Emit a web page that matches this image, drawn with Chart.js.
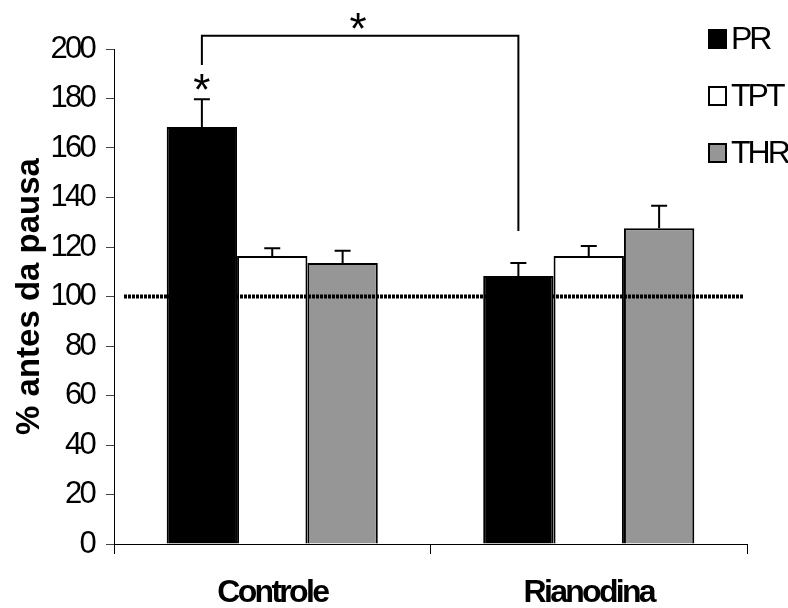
<!DOCTYPE html>
<html>
<head>
<meta charset="utf-8">
<script src="https://cdn.jsdelivr.net/npm/chart.js@4"></script>
<style>
  html, body { margin: 0; padding: 0; background: #fff; }
</style>
</head>
<body>
<canvas id="grafico" width="788" height="608"></canvas>
<script>
// dados
const categorias = ["Controle", "Rianodina"];
const nomesSeries = ["PR", "TPT", "THR"];
const mediaPR = [168.5, 108.3];
const mediaTPT = [116.4, 116.4];
const mediaTHR = [113.5, 127.6];
const erroPR = [11.2, 5.2];
const erroTPT = [3.1, 4.0];
const erroTHR = [5.0, 9.1];
const linhaBase = 100; // linha pontilhada
const yMin = 0, yMax = 200, yPasso = 20;

// colchete de significancia (valores no eixo y)
const colcheteTopo = 205.4;
const colcheteFimEsq = 193.5;
const colcheteFimDir = 126.5;
const asteriscoBarra = 186.5;
const asteriscoColchete = 211.3;

const FONTE = "'Liberation Sans', Arial, sans-serif";
const cores = ["#000000", "#ffffff", "#969696"];
const erros = [erroPR, erroTPT, erroTHR];

// espacamento negativo para imitar o texto comprimido do original
const plugEspaco = {
  id: "espaco",
  beforeUpdate(chart) { chart.ctx.letterSpacing = "-2.7px"; },
  beforeDraw(chart) { chart.ctx.letterSpacing = "-2.7px"; },
};

function asterisco(ctx, x, cy, tam) {
  ctx.font = tam + "px " + FONTE;
  ctx.textAlign = "center";
  ctx.textBaseline = "alphabetic";
  const m = ctx.measureText("*");
  ctx.fillText("*", x, cy + (m.actualBoundingBoxAscent - m.actualBoundingBoxDescent) / 2);
}

const plugExtras = {
  id: "extras",
  afterDatasetsDraw(chart) {
    const ctx = chart.ctx;
    const y = chart.scales.y;
    const area = chart.chartArea;
    ctx.save();
    ctx.strokeStyle = "#000";
    ctx.fillStyle = "#000";

    // barras de erro (so para cima)
    ctx.lineWidth = 2;
    chart.data.datasets.forEach((ds, i) => {
      const meta = chart.getDatasetMeta(i);
      meta.data.forEach((bar, j) => {
        const topo = y.getPixelForValue(ds.data[j] + erros[i][j]);
        ctx.beginPath();
        ctx.moveTo(bar.x, bar.y);
        ctx.lineTo(bar.x, topo);
        ctx.moveTo(bar.x - 8, topo);
        ctx.lineTo(bar.x + 8, topo);
        ctx.stroke();
      });
    });

    // linha pontilhada em 100%
    const yb = y.getPixelForValue(linhaBase);
    ctx.lineWidth = 4;
    ctx.setLineDash([3, 1]);
    ctx.beginPath();
    ctx.moveTo(area.left + 10, yb);
    ctx.lineTo(area.right - 3, yb);
    ctx.stroke();
    ctx.setLineDash([]);

    // colchete entre PR controle e PR rianodina
    const pr = chart.getDatasetMeta(0).data;
    const x1 = pr[0].x, x2 = pr[1].x;
    const yt = y.getPixelForValue(colcheteTopo);
    ctx.lineWidth = 2;
    ctx.beginPath();
    ctx.moveTo(x1, y.getPixelForValue(colcheteFimEsq));
    ctx.lineTo(x1, yt);
    ctx.lineTo(x2, yt);
    ctx.lineTo(x2, y.getPixelForValue(colcheteFimDir));
    ctx.stroke();

    ctx.letterSpacing = "0px";
    asterisco(ctx, x1, y.getPixelForValue(asteriscoBarra), 44);
    asterisco(ctx, (x1 + x2) / 2 - 2, y.getPixelForValue(asteriscoColchete), 44);
    ctx.restore();
  },
  afterDraw(chart) {
    const ctx = chart.ctx;
    const area = chart.chartArea;
    ctx.save();

    // legenda
    ctx.letterSpacing = "-3px";
    ctx.font = "32px " + FONTE;
    ctx.textAlign = "left";
    ctx.textBaseline = "middle";
    nomesSeries.forEach((nome, i) => {
      const cy = 39 + i * 57;
      ctx.fillStyle = cores[i];
      ctx.fillRect(709, cy - 9, 17, 18);
      ctx.strokeStyle = "#000";
      ctx.lineWidth = 2;
      ctx.strokeRect(709, cy - 9, 17, 18);
      ctx.fillStyle = "#000";
      ctx.fillText(nome, 731, cy + 1);
    });

    // titulo do eixo y
    ctx.letterSpacing = "0px";
    ctx.font = "bold 33px " + FONTE;
    ctx.textAlign = "center";
    ctx.textBaseline = "middle";
    ctx.translate(30, (area.top + area.bottom) / 2);
    ctx.rotate(-Math.PI / 2);
    ctx.fillText("% antes da pausa", 0, 0);
    ctx.restore();
  },
};

const grafico = new Chart(document.getElementById("grafico"), {
  type: "bar",
  data: {
    labels: categorias,
    datasets: [
      { label: nomesSeries[0], data: mediaPR, backgroundColor: cores[0] },
      { label: nomesSeries[1], data: mediaTPT, backgroundColor: cores[1] },
      { label: nomesSeries[2], data: mediaTHR, backgroundColor: cores[2] },
    ].map((d) => Object.assign(d, {
      borderColor: "#000",
      borderWidth: 2,
      categoryPercentage: 0.667,
      barPercentage: 1.0,
    })),
  },
  options: {
    responsive: false,
    animation: false,
    devicePixelRatio: 1,
    layout: { padding: { top: 49, right: 41, left: 0, bottom: 0 } },
    plugins: { legend: { display: false }, tooltip: { enabled: false } },
    scales: {
      x: {
        ticks: { color: "#000", font: { family: FONTE, size: 32, weight: "bold" }, padding: 20 },
        grid: { offset: true, drawOnChartArea: false, tickLength: 10, color: "#000" },
        border: { color: "#000", width: 1 },
        afterFit(s) { s.height = 64; },
      },
      y: {
        min: yMin,
        max: yMax,
        ticks: { stepSize: yPasso, color: "#000", font: { family: FONTE, size: 31 }, padding: 12 },
        grid: { drawOnChartArea: false, tickLength: 8, color: "#444" },
        border: { color: "#000", width: 1 },
        afterFit(s) { s.width = 114; },
      },
    },
  },
  plugins: [plugEspaco, plugExtras],
});
</script>
</body>
</html>
